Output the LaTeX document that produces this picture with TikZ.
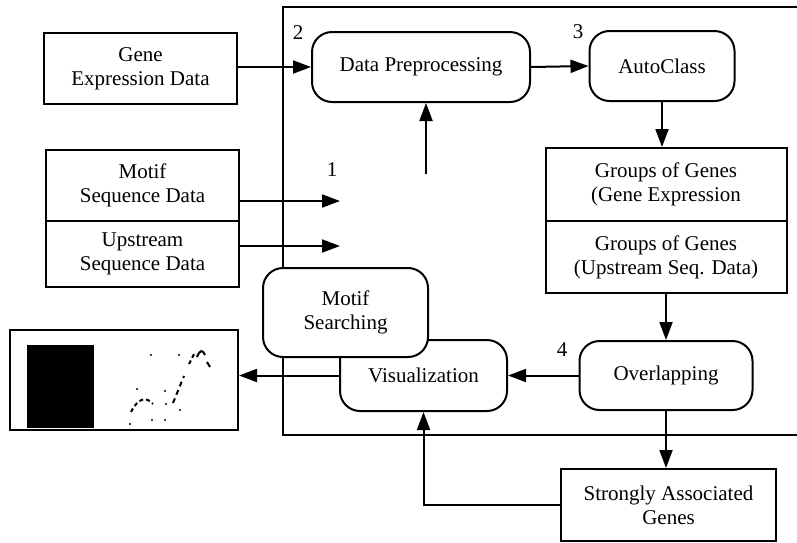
\documentclass[tikz,border=0pt]{standalone}
\usepackage{fontspec}
\setmainfont{Liberation Serif}
\usepackage{tikz}
\usetikzlibrary{arrows.meta, positioning}
\tikzstyle{line} = [draw, line width=1pt, -{Triangle[length=9pt,width=6.5pt]}]

\begin{document}
\begin{tikzpicture}[x=0.5pt, y=-0.5pt, line width=1pt,
				databox/.style={draw, rectangle, align=center, inner sep=0pt},
				stepbox/.style={draw, rectangle, rounded corners=10pt, align=center, inner sep=0pt, fill=white},
				font=\fontsize{10.5}{12}\selectfont]
				\useasboundingbox (0,0) rectangle (797,542);
				% Rahmen
				\draw (797,7) -- (283,7) -- (283,435) -- (797,435);
				% Eingangsdaten
				\node[databox, minimum width=96.5pt, minimum height=35.5pt] (gene) at (140.5,68.5) {Gene\\Expression Data};
				\node[databox, minimum width=96.5pt, minimum height=35.5pt] (motifseq) at (142.5,185.5) {Motif\\Sequence Data};
				\node[databox, minimum width=96.5pt, minimum height=33pt] (upseq) at (142.5,254) {Upstream\\Sequence Data};
				% Verarbeitungsschritte
				\node[stepbox, minimum width=109pt, minimum height=35pt] (prep) at (421,67) {Data Preprocessing};
				\node[stepbox, minimum width=72.5pt, minimum height=35pt] (auto) at (662,66) {AutoClass};
				\node[databox, minimum width=120.5pt, minimum height=36.5pt] (grpexp) at (666,184.5) {Groups of Genes\\(Gene Expression};
				\node[databox, minimum width=120.5pt, minimum height=36pt, below=-1pt of grpexp] (grpup) {Groups of Genes\\(Upstream Seq. Data)};
				\node[stepbox, minimum width=86.5pt, minimum height=34.5pt] (overlap) at (666,375.5) {Overlapping};
				\node[stepbox, minimum width=83.5pt, minimum height=35.5pt] (vis) at (423.5,375.5) {Visualization};
				\node[stepbox, minimum width=82.5pt, minimum height=44.5pt] (search) at (345.5,312.5) {Motif\\Searching};
				\node[databox, minimum width=107.5pt, minimum height=36pt] (strong) at (668.5,505) {Strongly Associated\\Genes};
				% Ausgabe
				\node[databox, minimum width=114pt, minimum height=50pt] (screen) at (124,380) {};
				\fill (27,345) rectangle (94,428);
				\draw [line width=1pt, dash pattern=on 2pt off 1.5pt] (131,412) .. controls (138,398) and (146,396) .. (153,404);
				\draw [line width=1pt, dash pattern=on 2.5pt off 2pt] (173,403) -- (184,376);
				\draw [line width=1pt, dash pattern=on 2pt off 1.5pt] (189,364) -- (194,354);
				\draw [line width=1pt] (197,357) .. controls (200,349) and (203,350) .. (205,355);
				\draw [line width=1pt] (207,362) -- (210,367);
				\foreach \px/\py in {137/389, 151/355, 165/391, 165/420, 152/420, 130/424, 179/355, 180/410, 166/404}
					\fill (\px,\py) circle (0.6pt);
				% Nummern
				\node (n2) at (298,33) {2};
				\node (n3) at (578,32) {3};
				\node (n1) at (332,170) {1};
				\node (n4) at (562,350) {4};
				% Verbindungen
				\coordinate (motifend) at (340,201);
				\coordinate (upend) at (340,246);
				\coordinate (prepin) at (426,174);
				\path[line] (gene.east |- prep.west) -- (prep.west);
				\path[line] (motifseq.east |- motifend) -- (motifend);
				\path[line] (upseq.east |- upend) -- (upend);
				\path[line] (prepin) -- (prepin |- prep.south);
				\path[line] (prep.east) -- (auto.west);
				\path[line] (auto.south) -- (auto.south |- grpexp.north);
				\path[line] (grpup.south) -- (overlap.north);
				\path[line] (overlap.west) -- (vis.east);
				\path[line] (vis.west) -- (screen.east |- vis.west);
				\path[line] (overlap.south) -- (overlap.south |- strong.north);
				\path[line] (strong.west) -| (vis.south);
			\end{tikzpicture}
\end{document}
